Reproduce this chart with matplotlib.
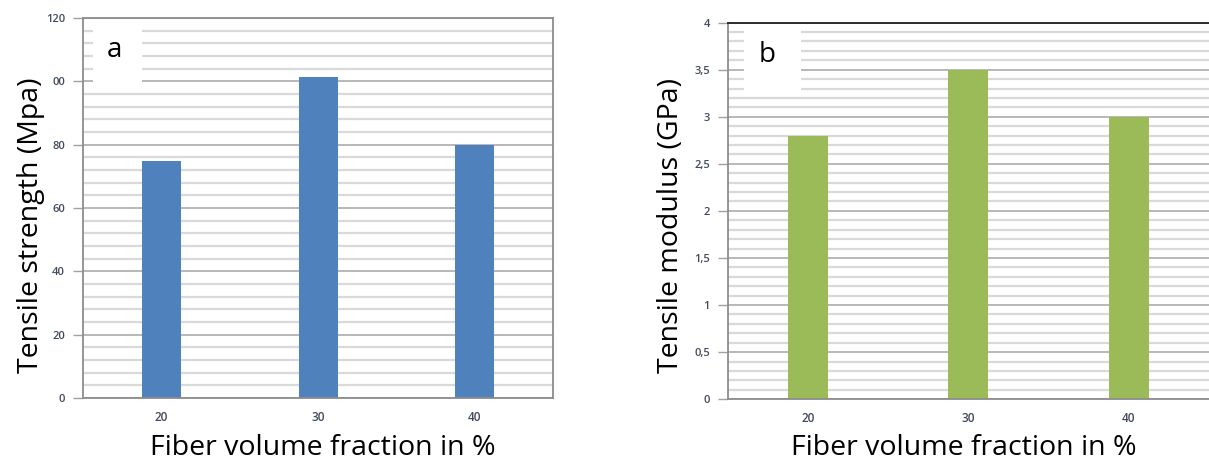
import matplotlib
matplotlib.use("Agg")
import matplotlib.pyplot as plt
from matplotlib.ticker import MultipleLocator, FixedLocator, FixedFormatter
from matplotlib.patches import Rectangle

plt.rcParams['font.family'] = ['Open Sans', 'DejaVu Sans']

fractions = ['20', '30', '40']
strength = [75, 101.5, 80]      # MPa
modulus = [2.8, 3.5, 3.0]       # GPa

strength_ticks = [0, 20, 40, 60, 80, 100, 120]
strength_labels = ['0', '20', '40', '60', '80', '00', '120']
modulus_ticks = [0, 0.5, 1, 1.5, 2, 2.5, 3, 3.5, 4]
modulus_labels = ['0', '0,5', '1', '1,5', '2', '2,5', '3', '3,5', '4']

fig = plt.figure(figsize=(12.09, 4.62), dpi=100)
ax1 = fig.add_axes([0.0687, 0.1385, 0.3888, 0.8225])
ax2 = fig.add_axes([0.602, 0.136, 0.398, 0.815])

tick_col = '#404a5a'


def style(ax, vals, color, ticks, labels, minor, ylab, letter, box, ypos, xpos):
    x = range(len(vals))
    ax.bar(x, vals, width=0.25, color=color, zorder=2)
    ax.set_xlim(-0.5, len(vals) - 0.5)
    ax.set_ylim(ticks[0], ticks[-1])
    ax.set_xticks(list(x))
    ax.set_xticklabels(fractions)
    ax.yaxis.set_major_locator(FixedLocator(ticks))
    ax.yaxis.set_major_formatter(FixedFormatter(labels))
    ax.yaxis.set_minor_locator(MultipleLocator(minor))
    ax.set_axisbelow(True)
    ax.grid(axis='y', which='minor', color='#d9d9d9', lw=1.6)
    ax.grid(axis='y', which='major', color='#b8b8b8', lw=1.4)
    ax.tick_params(axis='x', length=0, pad=9, labelsize=8.5, labelcolor=tick_col)
    ax.tick_params(axis='y', which='major', length=7, width=1, color='#a0a0a0',
                   labelsize=8, labelcolor=tick_col, pad=6)
    ax.tick_params(axis='y', which='minor', length=0)
    for t in ax.get_xticklabels() + ax.get_yticklabels():
        t.set_fontweight('semibold')
    for s in ax.spines.values():
        s.set_color('#8c8c8c')
        s.set_linewidth(1.3)
    ax.set_ylabel(ylab, fontsize=20.5)
    ax.yaxis.set_label_coords(ypos[0], ypos[1])
    ax.set_xlabel('Fiber volume fraction in %', fontsize=20.5)
    ax.xaxis.set_label_coords(xpos[0], xpos[1])
    ax.add_patch(Rectangle((box[0], box[1]), box[2], box[3], transform=ax.transAxes,
                           facecolor='white', edgecolor='none', zorder=1))
    ax.text(box[0] + 0.03, 0.915, letter, transform=ax.transAxes, fontsize=20,
            va='center', zorder=3)


style(ax1, strength, '#4f81bd', strength_ticks, strength_labels, 4,
      'Tensile strength (Mpa)', 'a', (0.021, 0.815, 0.105, 0.18),
      (-0.08, 0.455), (0.51, -0.095))
style(ax2, modulus, '#9bbb59', modulus_ticks, modulus_labels, 0.1,
      'Tensile modulus (GPa)', 'b', (0.033, 0.81, 0.12, 0.185),
      (-0.09, 0.46), (0.49, -0.093))
ax2.spines['top'].set_color('#202020')
ax2.spines['right'].set_visible(False)

fig.savefig('out.png', dpi=100)
